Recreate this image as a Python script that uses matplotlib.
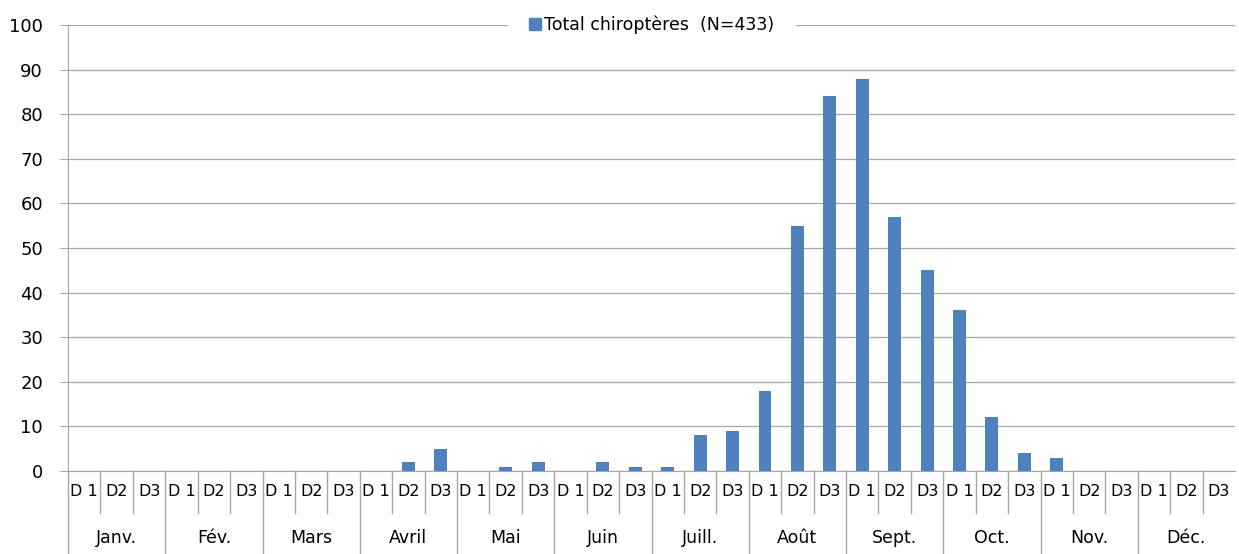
import matplotlib.pyplot as plt
from matplotlib.patches import Patch

months = ['Janv.', 'Fév.', 'Mars', 'Avril', 'Mai', 'Juin',
          'Juill.', 'Août', 'Sept.', 'Oct.', 'Nov.', 'Déc.']
decades = ['D 1', 'D2', 'D3']
counts = [0, 0, 0,   0, 0, 0,   0, 0, 0,   0, 2, 5,
          0, 1, 2,   0, 2, 1,   1, 8, 9,   18, 55, 84,
          88, 57, 45, 36, 12, 4,  3, 0, 0,   0, 0, 0]
label = 'Total chiroptères  (N=433)'

plt.rcParams['font.family'] = ['DejaVu Sans']
fig = plt.figure(figsize=(12.39, 5.54), dpi=100)
ax = fig.add_axes([0.0549, 0.1498, 0.9419, 0.8051])

n = len(counts)
x = list(range(n))
ax.bar(x, counts, width=0.4, color='#4F81BD', zorder=3)
ax.set_xlim(-0.5, n - 0.5)
ax.set_ylim(0, 100)
ax.set_yticks(range(0, 101, 10))
ax.tick_params(axis='y', labelsize=13, length=6, color='#A6A6A6', pad=12)
ax.set_xticks([])
ax.grid(axis='y', color='#A6A6A6', linewidth=0.9, zorder=0)
for s in ['top', 'right']:
    ax.spines[s].set_visible(False)
for s in ['left', 'bottom']:
    ax.spines[s].set_color('#A6A6A6')

tr = ax.get_xaxis_transform()
for i in range(n):
    ax.text(i, -0.047, decades[i % 3], transform=tr, ha='center', va='center', fontsize=11.5)
    if i % 3 != 0:
        ax.plot([i - 0.5, i - 0.5], [0, -0.094], transform=tr, color='#A6A6A6',
                lw=1, clip_on=False)
for m, name in enumerate(months):
    ax.text(3 * m + 1, -0.15, name, transform=tr, ha='center', va='center', fontsize=12.5)
    ax.plot([3 * m - 0.5, 3 * m - 0.5], [0, -0.19], transform=tr, color='#A6A6A6',
            lw=1, clip_on=False)

leg = ax.legend([Patch(color='#4F81BD')], [label], loc='center', bbox_to_anchor=(0.5, 1.0),
                frameon=True, fontsize=12.5, handlelength=0.7, handleheight=0.7,
                handletextpad=0.2, borderpad=1.2, borderaxespad=0)
leg.get_frame().set_edgecolor('white')
leg.get_frame().set_facecolor('white')
leg.get_frame().set_alpha(1)
leg.set_zorder(5)

fig.savefig('out.png')
